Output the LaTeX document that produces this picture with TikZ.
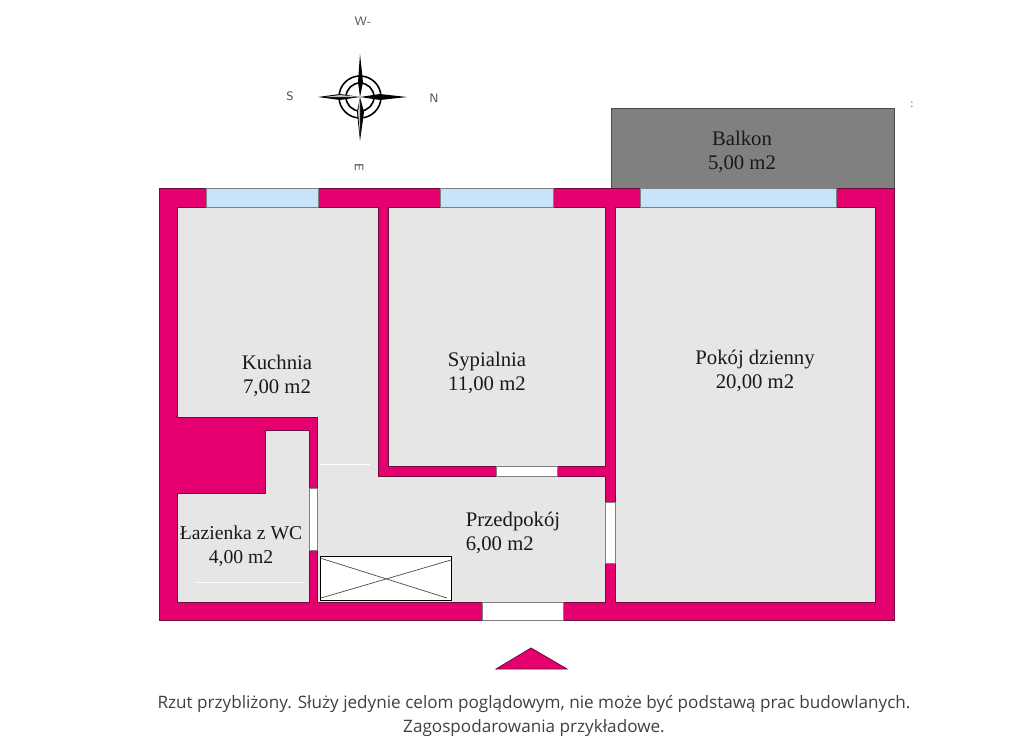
\documentclass[tikz,border=0pt]{standalone}
\usepackage{fontspec}
\setmainfont{Liberation Serif}
\newfontfamily\notefont{Open Sans}
\definecolor{wallpink}{RGB}{228,0,110}
\definecolor{walledge}{RGB}{110,10,60}
\definecolor{floorgray}{RGB}{230,230,230}
\definecolor{glassblue}{RGB}{200,228,248}
\definecolor{balcgray}{RGB}{128,128,128}
\begin{document}
\begin{tikzpicture}[x=0.02cm,y=-0.02cm,
    wall/.style={draw=walledge,fill=wallpink,line width=0.5pt},
    floor/.style={draw=walledge,fill=floorgray,line width=0.5pt},
    glass/.style={draw=gray,fill=glassblue,line width=0.4pt},
    opening/.style={draw=gray,fill=white,line width=0.4pt},
    roomlabel/.style={align=center,font=\fontsize{11.8}{13.6}\selectfont,text=black!90},
    compasslabel/.style={font=\sffamily\fontsize{7}{8}\selectfont,text=black!70}]
    \useasboundingbox (0,0) rectangle (1024,754);

    % balcony and outer walls
    \draw[fill=balcgray,draw=black!70,line width=0.5pt] (611,108) rectangle (894,188);
    \draw[wall] (159,188) rectangle (894,620);

    % rooms
    \draw[floor] (177,207) -- (378,207) -- (378,476) -- (605,476) -- (605,602) -- (317,602) -- (317,417) -- (177,417) -- cycle;
    \draw[floor] (177,493) -- (265,493) -- (265,430) -- (309,430) -- (309,602) -- (177,602) -- cycle;
    \draw[floor] (388,207) rectangle (605,466);
    \draw[floor] (615,207) rectangle (875,602);
    \draw[white,very thin] (320,464) -- (370,464);
    \draw[white,very thin] (196,582) -- (305,582);

    % windows
    \draw[glass] (206,188) rectangle (318,207);
    \draw[glass] (440,188) rectangle (553,207);
    \draw[glass] (640,188) rectangle (836,207);

    % doors
    \draw[opening] (496,466) rectangle (557,476);
    \draw[opening] (605,502) rectangle (615,563);
    \draw[opening] (482,602) rectangle (563,620);
    \draw[opening] (309,488) rectangle (317,550);

    % box with cross
    \draw[fill=white,line width=0.35pt] (320,556) rectangle (451,600);
    \draw[black!70,line width=0.4pt] (320,558) -- (447,598);
    \draw[black!70,line width=0.4pt] (321,598) -- (451,560);

    % entrance mark
    \draw[fill=wallpink,draw=walledge,line width=0.5pt] (496,669) -- (531,648) -- (567,669) -- cycle;

    % compass
    \draw[line width=0.9pt] (360,97) circle (21);
    \draw[line width=0.9pt] (360,97) circle (14);
    \fill[black] (360,97) -- (358,82) -- (360,54) -- (363,82) -- cycle;
    \fill[black] (360,97) -- (357,112) -- (360,141) -- (364,112) -- cycle;
    \fill[black] (360,97) -- (340,94) -- (318,97) -- (340,100) -- cycle;
    \fill[black] (360,97) -- (380,94) -- (407,97) -- (380,100) -- cycle;
    \fill[gray!50] (360,97) -- (358,112) -- (360,135) -- cycle;
    \fill[gray!50] (360,97) -- (340,95) -- (325,97) -- cycle;
    \node[compasslabel] (W) at (363,21) {W-};
    \node[compasslabel] (S) at (290,96) {S};
    \node[compasslabel] (N) at (434,98) {N};
    \node[compasslabel,rotate=-90] (E) at (359,167) {E};
    \node[compasslabel] (dots) at (912,105) {:};

    % room labels
    \node[roomlabel] (Balkon) at (742,152) {Balkon\\5,00 m2};
    \node[roomlabel] (Kuchnia) at (277,376) {Kuchnia\\7,00 m2};
    \node[roomlabel] (Sypialnia) at (487,373) {Sypialnia\\11,00 m2};
    \node[roomlabel] (Pokoj) at (755,371) {Pokój dzienny\\20,00 m2};
    \node[roomlabel,font=\fontsize{11.2}{13.6}\selectfont] (Lazienka) at (241,546) {Łazienka z WC\\4,00 m2};
    \node[roomlabel,align=left] (Przedpokoj) at (513,533) {Przedpokój\\6,00 m2};

    % note
    \node[align=center,font=\notefont\fontsize{9.75}{14.2}\selectfont,text=black!75] (Note) at (534,716)
      {Rzut przybliżony. Służy jedynie celom poglądowym, nie może być podstawą prac budowlanych.\\Zagospodarowania przykładowe.};
\end{tikzpicture}
\end{document}
